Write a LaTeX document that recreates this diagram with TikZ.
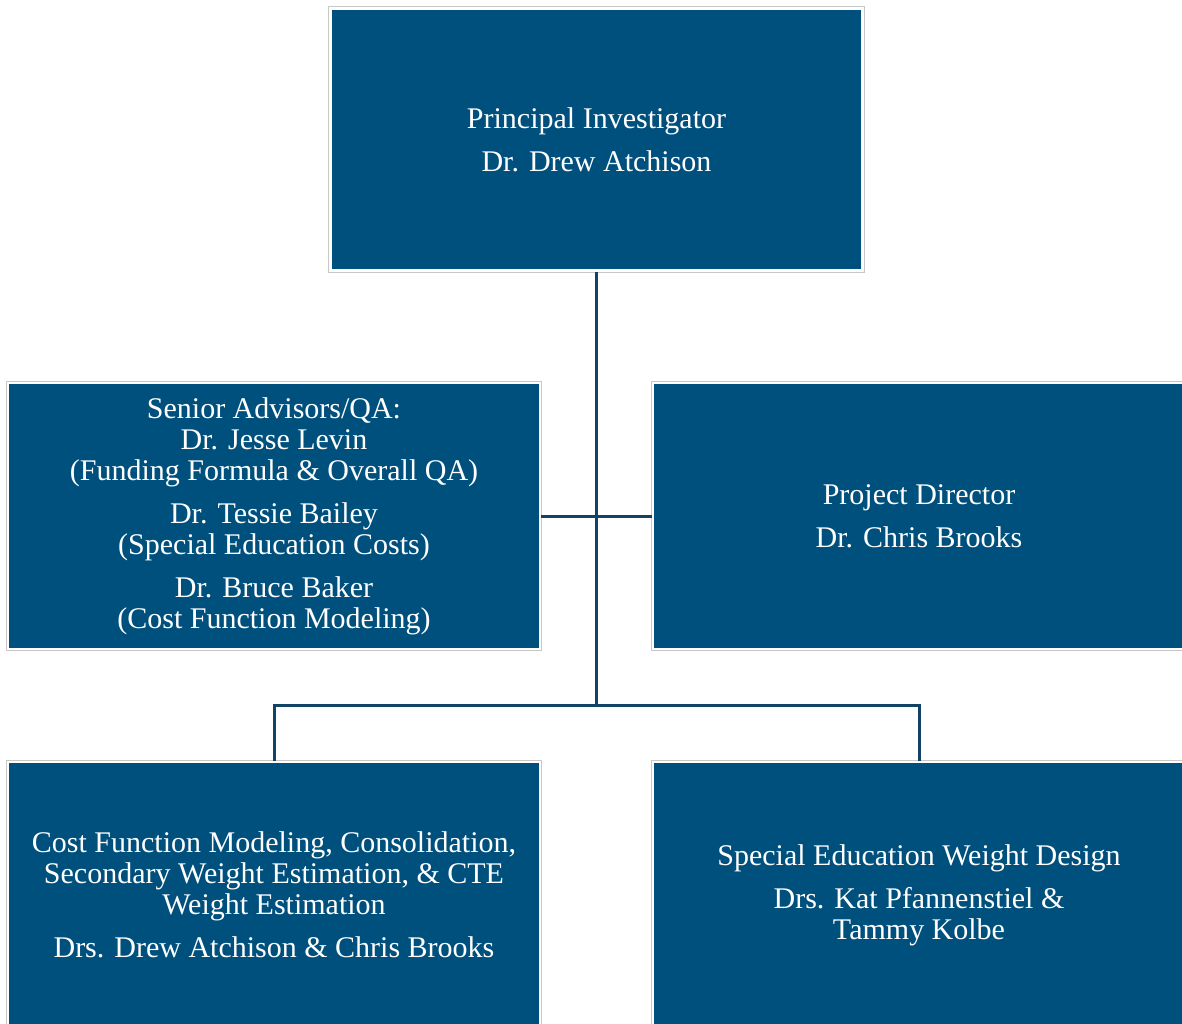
\documentclass[tikz,border=0pt]{standalone}
\usepackage{fontspec}
\setmainfont{Liberation Serif}
\usetikzlibrary{positioning}
\definecolor{boxblue}{RGB}{0,80,125}
\definecolor{lineblue}{RGB}{18,66,100}
\definecolor{rimgray}{RGB}{200,200,200}
\tikzset{every node/.style={font=\fontsize{15}{15.5}\selectfont},
  orgbox/.style={fill=boxblue, draw=white, line width=1.2pt,
    preaction={draw=rimgray, line width=2.2pt},
    text=white, align=center, inner sep=0pt,
    minimum width=266pt, minimum height=133pt},
  orgline/.style={draw=lineblue, line width=1.5pt}}
\begin{document}
\begin{tikzpicture}[x=0.5pt,y=-0.5pt]
  \useasboundingbox (0,0) rectangle (1182,1023);
  % boxes
  \node[orgbox, minimum height=131pt] (pi) at (596.5,139.5)
    {Principal Investigator\\[6pt] Dr. Drew Atchison};
  \node[orgbox] (adv) at (274,516)
    {Senior Advisors/QA:\\ Dr. Jesse Levin\\ (Funding Formula \& Overall QA)\\[6pt]
     Dr. Tessie Bailey\\ (Special Education Costs)\\[6pt]
     Dr. Bruce Baker\\ (Cost Function Modeling)};
  \node[orgbox] (pd) at (919,516)
    {Project Director\\[6pt] Dr. Chris Brooks};
  \node[orgbox] (cf) at (274,895)
    {Cost Function Modeling, Consolidation,\\ Secondary Weight Estimation, \& CTE\\
     Weight Estimation\\[6pt] Drs. Drew Atchison \& Chris Brooks};
  \node[orgbox] (sp) at (919,895)
    {Special Education Weight Design\\[6pt] Drs. Kat Pfannenstiel \&\\ Tammy Kolbe};
  % connectors
  \coordinate (hub) at (pi.south |- 0,705);
  \draw[orgline] (pi.south) -- (hub);
  \draw[orgline] (adv.east) -- (pd.west);
  \draw[orgline] (cf.north) |- (hub) -| (sp.north);
\end{tikzpicture}
\end{document}
